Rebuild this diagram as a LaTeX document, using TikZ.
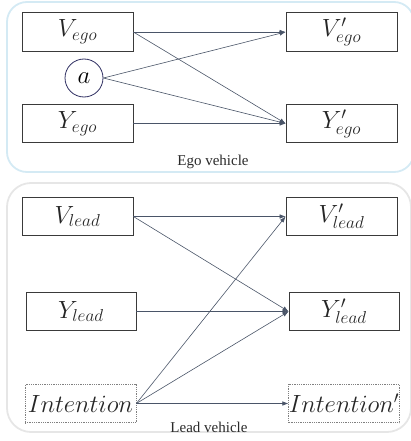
\documentclass[tikz,border=0pt]{standalone}
\usepackage{fontspec}
\newfontfamily\timesfont{Liberation Serif}
\usetikzlibrary{arrows.meta}
\definecolor{boxline}{HTML}{3A3A3A}
\definecolor{arrowc}{HTML}{4A5568}
\definecolor{egoframe}{HTML}{D4EAF4}
\definecolor{leadframe}{HTML}{E6E6E6}
\definecolor{labeltext}{HTML}{2A2A2A}
\begin{document}
\begin{tikzpicture}[x=1pt,y=-1pt,
  varbox/.style={draw=boxline, line width=0.8pt, minimum width=111pt, minimum height=38.5pt, inner sep=0pt, font=\fontsize{24}{28}\selectfont, text=black!85},
  dotbox/.style={varbox, draw=gray, densely dotted, line width=0.7pt},
  varcircle/.style={draw=boxline!80!blue, line width=0.8pt, circle, minimum size=38pt, inner sep=0pt, font=\fontsize{24}{28}\selectfont},
  link/.style={draw=arrowc, line width=0.6pt, -{Latex[length=6pt,width=4.5pt]}},
  frame/.style={line width=1.8pt, rounded corners=20pt},
  grouplabel/.style={font=\timesfont\fontsize{15}{17}\selectfont, text=labeltext, inner sep=0pt}
]
\useasboundingbox (0,0) rectangle (411,441);
\draw[frame, draw=egoframe] (7,2) rectangle (414,172);
\draw[frame, draw=leadframe, rounded corners=24pt] (7,183) rectangle (411,432);

\node[varbox] (ve) at (77.5,32) {$V_{ego}$};
\node[varbox] (vep) at (341.5,32) {$V'_{ego}$};
\node[varcircle] (a) at (84,78) {$a$};
\node[varbox] (ye) at (77.5,123.5) {$Y_{ego}$};
\node[varbox] (yep) at (341.5,123.5) {$Y'_{ego}$};
\node[grouplabel] (egol) at (213,162) {Ego vehicle};

\node[varbox] (vl) at (77.5,216.5) {$V_{lead}$};
\node[varbox] (vlp) at (341.5,216.5) {$V'_{lead}$};
\node[varbox, minimum width=110pt] (yl) at (81,311.5) {$Y_{lead}$};
\node[varbox, minimum width=110pt] (ylp) at (344,311.5) {$Y'_{lead}$};
\node[dotbox] (in) at (80.5,403.5) {$Intention$};
\node[dotbox, minimum width=110pt] (inp) at (344,403.5) {$Intention'$};
\node[grouplabel] (leadl) at (209,427) {Lead vehicle};

\draw[link] (ve.east) -- (vep.west);
\draw[link] (ve.east) -- (yep.west);
\draw[link] (a.east) -- (vep.west);
\draw[link] (a.east) -- (yep.west);
\draw[link] (ye.east) -- (yep.west);

\draw[link] (vl.east) -- (vlp.west);
\draw[link] (vl.east) -- (ylp.west);
\draw[link] (yl.east) -- (ylp.west);
\draw[link] (in.east) -- (vlp.west);
\draw[link] (in.east) -- (ylp.west);
\draw[link] (in.east) -- (inp.west);
\end{tikzpicture}
\end{document}
